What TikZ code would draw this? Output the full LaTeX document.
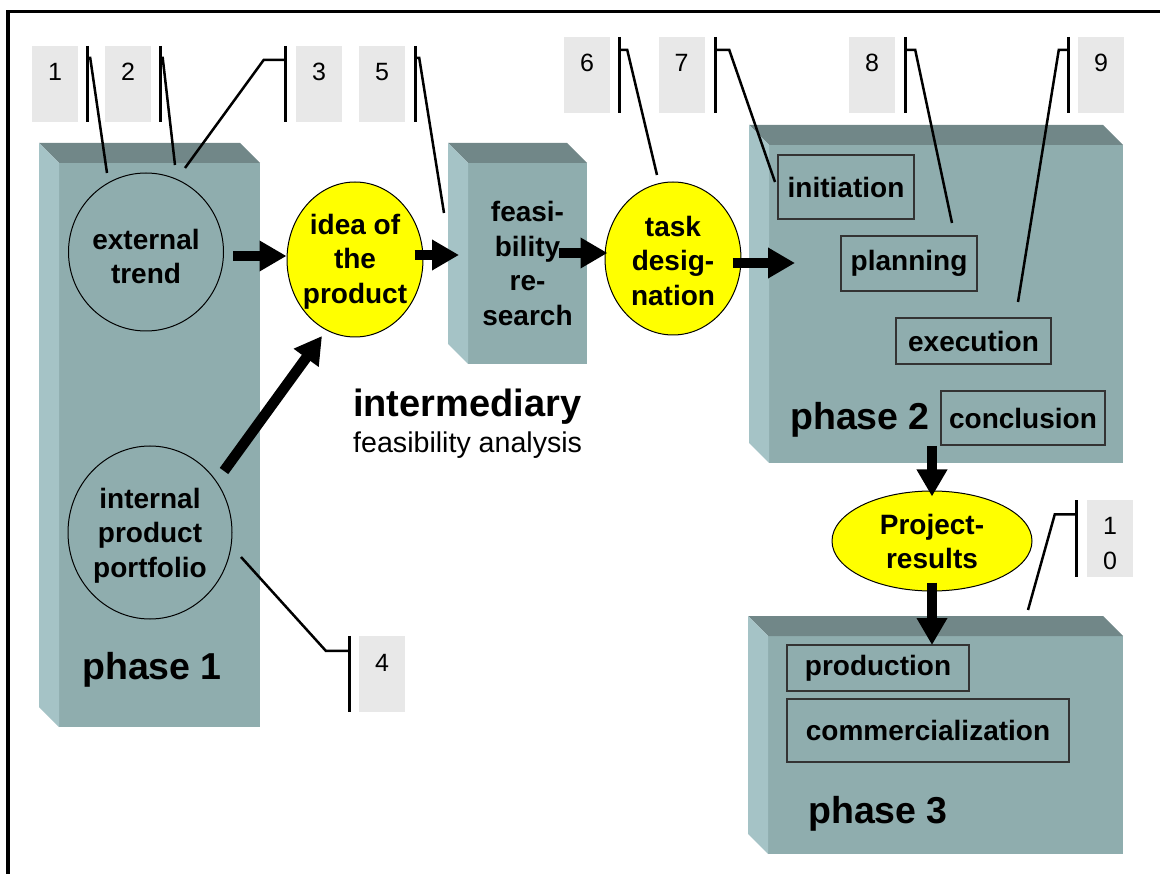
\documentclass[tikz,border=0pt]{standalone}
\usepackage{fontspec}
\setmainfont{Liberation Sans}
\usetikzlibrary{arrows.meta,shapes.geometric,calc}

\definecolor{frontc}{HTML}{8FADAE}
\definecolor{topc}{HTML}{718788}
\definecolor{leftc}{HTML}{A5C3C6}
\definecolor{callc}{HTML}{E8E8E8}
\definecolor{yel}{HTML}{FFFF00}
\definecolor{boxline}{HTML}{333333}

\newcommand\threedslab[1]{%
  \fill[topc] (#1.north west) -- (#1.north east) -- ([xshift=-20pt,yshift=20pt]#1.north east) -- ([xshift=-20pt,yshift=20pt]#1.north west) -- cycle;
  \fill[leftc] (#1.north west) -- ([xshift=-20pt,yshift=20pt]#1.north west) -- ([xshift=-20pt,yshift=20pt]#1.south west) -- (#1.south west) -- cycle;
}

\begin{document}
\begin{tikzpicture}[x=1pt,y=-1pt,
  front/.style={rectangle, fill=frontc, inner sep=0pt, outer sep=0pt},
  bold/.style={font=\fontsize{28}{34.5}\selectfont\bfseries, align=center, inner sep=0pt},
  phase/.style={font=\fontsize{37.5}{40}\selectfont\bfseries, anchor=base west, inner sep=0pt},
  oval/.style={ellipse, draw=black, line width=1pt, inner sep=0pt},
  sub/.style={rectangle, draw=boxline, line width=1.3pt, font=\fontsize{28}{34}\selectfont\bfseries, inner sep=0pt},
  callbox/.style={rectangle, fill=callc, minimum width=46pt, minimum height=76pt, inner sep=0pt, font=\fontsize{25}{35}\selectfont},
  digit/.style={text height=18pt, text depth=24pt},
  bar/.style={line width=3pt},
  leader/.style={line width=2.5pt},
  blk/.style={line width=10.5pt, -{Triangle[width=29pt,length=27pt]}},
]
\useasboundingbox (0,0) rectangle (1160,874);

% frame
\draw[line width=3.5pt] (8,880) -- (8,11.5) -- (1170,11.5);

% phase 1 slab
\node[front, minimum width=201pt, minimum height=564pt] (p1) at (159.5,445) {};
\threedslab{p1}
\node[phase] (p1t) at (82,679) {phase 1};

% feasibility slab
\node[front, bold, minimum width=119pt, minimum height=201pt] (feas) at (527.5,263.5) {feasi-\\bility\\re-\\search};
\threedslab{feas}

% phase 2 slab
\node[front, minimum width=354pt, minimum height=318pt] (p2) at (946,304) {};
\threedslab{p2}
\node[phase] (p2t) at (790,430) {phase 2};
\node[sub, minimum width=136pt, minimum height=64pt] (init) at (846,187) {initiation};
\node[sub, minimum width=136pt, minimum height=55pt] (plan) at (909,263.5) {planning};
\node[sub, minimum width=155pt, minimum height=46pt] (exec) at (973.5,341) {execution};
\node[sub, minimum width=164pt, minimum height=54pt] (concl) at (1023,418) {conclusion};

% phase 3 slab
\node[front, minimum width=355pt, minimum height=218pt] (p3) at (945.5,745) {};
\threedslab{p3}
\node[phase] (p3t) at (808,823) {phase 3};
\node[sub, minimum width=182pt, minimum height=46pt] (prod) at (878,668) {production};
\node[sub, minimum width=282pt, minimum height=63pt] (comm) at (928,730.5) {commercialization};

% ellipses
\node[oval, minimum width=155pt, minimum height=158pt] (ext) at (146,252) {};
\node[bold] (extt) at (146,256.3) {external\\trend};
\node[oval, minimum width=164pt, minimum height=173pt] (int) at (150,532.5) {};
\node[bold] (intt) at (150,535.7) {internal\\product\\portfolio};
\node[oval, fill=yel, minimum width=136pt, minimum height=155pt] (idea) at (355,259.5) {};
\node[bold] (ideat) at (355,261.3) {idea of\\the\\product};
\node[oval, fill=yel, minimum width=136pt, minimum height=153pt] (task) at (673,258.5) {};
\node[bold] (taskt) at (673,260.8) {task\\desig-\\nation};
\node[oval, fill=yel, minimum width=200pt, minimum height=100pt] (proj) at (932,541) {};
\node[bold] (projt) at (932,541.5) {Project-\\results};

% intermediary label
\node[anchor=base west, inner sep=0pt, font=\fontsize{38}{40}\selectfont\bfseries] (inter) at (353,417) {intermediary};
\node[anchor=base west, inner sep=0pt, font=\fontsize{28.6}{30}\selectfont] (fan) at (353,453) {feasibility analysis};

% arrows
\draw[blk] ([xshift=9pt,yshift=-4pt]ext.east) -- ([yshift=3.5pt]idea.west);
\draw[blk] ([xshift=-9pt,yshift=4.5pt]idea.east) -- ([xshift=-9pt,yshift=8.5pt]feas.west);
\draw[blk] ([xshift=-28pt,yshift=10.5pt]feas.east) -- ([xshift=3pt,yshift=5.5pt]task.west);
\draw[blk] ([xshift=-9pt,yshift=-4.5pt]task.east) -- ([xshift=26pt,yshift=41pt]p2.west);
\draw[blk] ($(int)+(74,-61.5)$) -- ($(idea)+(-33,76.5)$);
\draw[blk] ([xshift=-14pt,yshift=17pt]p2.south) -- ([yshift=-6pt]proj.north);
\draw[blk] ([yshift=9pt]proj.south) -- ([xshift=-13.5pt,yshift=-9pt]p3.north);

% callouts
\coordinate (e1) at (107,173);
\coordinate (e2) at (175,165);
\coordinate (e3) at (185,168);
\coordinate (e5) at (444,213);
\coordinate (e6) at (657,175);
\coordinate (e7) at (775,182);
\coordinate (e8) at (952,223);
\coordinate (e9) at (1018,302);
\coordinate (e4) at (241,557);
\coordinate (e10) at (1028,610);

\node[callbox, digit] (c1) at (55,84) {1};
\draw[bar] ([xshift=9pt]c1.north east) -- ([xshift=9pt]c1.south east);
\draw[leader] ([xshift=9pt,yshift=-12pt]c1.north east) -- ++(3,0) -- (e1);

\node[callbox, digit] (c2) at (128,84) {2};
\draw[bar] ([xshift=9.5pt]c2.north east) -- ([xshift=9.5pt]c2.south east);
\draw[leader] ([xshift=9.5pt,yshift=-12pt]c2.north east) -- ++(2,0) -- (e2);

\node[callbox, digit] (c3) at (319,84) {3};
\draw[bar] ([xshift=-10pt]c3.north west) -- ([xshift=-10pt]c3.south west);
\draw[leader] ([xshift=-10pt,yshift=-14pt]c3.north west) -- ++(-22,0) -- (e3);

\node[callbox, digit] (c5) at (382,84) {5};
\draw[bar] ([xshift=10pt]c5.north east) -- ([xshift=10pt]c5.south east);
\draw[leader] ([xshift=10pt,yshift=-12pt]c5.north east) -- ++(4,0) -- (e5);

\node[callbox, digit] (c6) at (587,75) {6};
\draw[bar] ([xshift=9pt]c6.north east) -- ([xshift=9pt]c6.south east);
\draw[leader] ([xshift=9pt,yshift=-13pt]c6.north east) -- ++(8,0) -- (e6);

\node[callbox, digit] (c7) at (681.5,75) {7};
\draw[bar] ([xshift=10.5pt]c7.north east) -- ([xshift=10.5pt]c7.south east);
\draw[leader] ([xshift=10.5pt,yshift=-13pt]c7.north east) -- ++(14,0) -- (e7);

\node[callbox, digit] (c8) at (872,75) {8};
\draw[bar] ([xshift=10pt]c8.north east) -- ([xshift=10pt]c8.south east);
\draw[leader] ([xshift=10pt,yshift=-13pt]c8.north east) -- ++(10,0) -- (e8);

\node[callbox, digit] (c9) at (1101,75) {9};
\draw[bar] ([xshift=-9pt]c9.north west) -- ([xshift=-9pt]c9.south west);
\draw[leader] ([xshift=-9pt,yshift=-13pt]c9.north west) -- ++(-10,0) -- (e9);

\node[callbox, digit] (c4) at (382,674) {4};
\draw[bar] ([xshift=-9pt]c4.north west) -- ([xshift=-9pt]c4.south west);
\draw[leader] ([xshift=-9pt,yshift=-15pt]c4.north west) -- ++(-24,0) -- (e4);

\node[callbox] (c10) at (1110,538.5) {};
\node[inner sep=0pt, align=center, font=\fontsize{25}{35}\selectfont] (c10t) at (1110,543.5) {1\\0};
\draw[bar] ([xshift=-10pt]c10.north west) -- ([xshift=-10pt]c10.south west);
\draw[leader] ([xshift=-10pt,yshift=-14pt]c10.north west) -- ++(-22,0) -- (e10);

\end{tikzpicture}
\end{document}
